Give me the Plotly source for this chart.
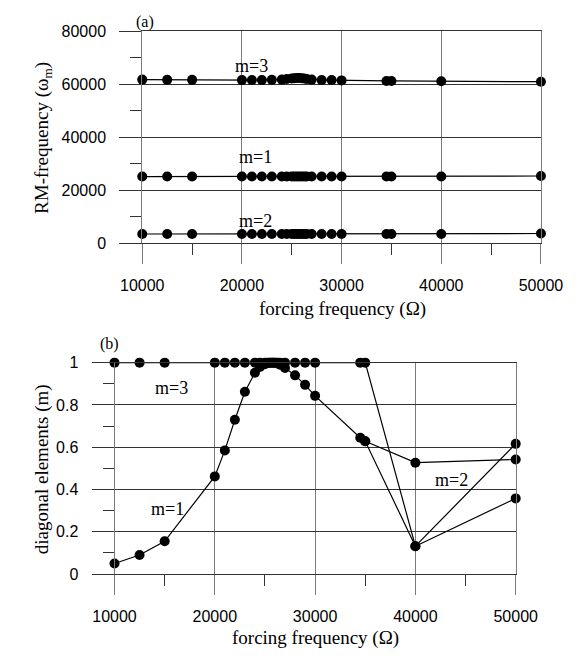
import plotly.graph_objects as go

# ---------------- data ----------------
forcing = [10000, 12500, 15000, 20000, 21000, 22000, 23000, 24000, 24500, 25000,
           25250, 25500, 25750, 26000, 26250, 26500, 27000, 28000, 29000, 30000,
           34500, 35000, 40000, 50000]

# (a) RM-frequency
rm_m3 = [61800, 61700, 61700, 61600, 61600, 61600, 61700, 61800, 62000, 62200,
         62300, 62400, 62400, 62300, 62200, 62000, 61800, 61600, 61600, 61500,
         61300, 61300, 61200, 61000]
rm_m1 = [25200] * 23 + [25400]
rm_m2 = [3500] * 22 + [3500, 3700]

# (b) diagonal elements
diag_m1 = [0.05, 0.09, 0.155, 0.462, 0.585, 0.73, 0.862, 0.952, 0.98, 0.993,
           0.998, 1.0, 1.0, 1.0, 0.998, 0.99, 0.975, 0.94, 0.895, 0.843,
           0.645, 0.628, 0.132, 0.358]
diag_m3 = [1.0] * 22 + [0.132, 0.616]
diag_m2_x = [35000, 40000, 50000]
diag_m2 = [0.628, 0.527, 0.542]

x_ticks = [10000, 20000, 30000, 40000, 50000]
x_labels = ["10000", "20000", "30000", "40000", "50000"]
ya_ticks = [0, 20000, 40000, 60000, 80000]
ya_labels = ["0", "20000", "40000", "60000", "80000"]
yb_ticks = [0, 0.2, 0.4, 0.6, 0.8, 1]
yb_labels = ["0", "0.2", "0.4", "0.6", "0.8", "1"]

# ---------------- figure ----------------
W, H = 587, 662
SANS = "Liberation Sans"
SERIF = "Liberation Serif"

def px(x):
    return x / W

def py(y):
    return 1 - y / H

line_style = dict(color="black", width=1.2)
marker_style = dict(color="black", size=10)

fig = go.Figure()
for ys in (rm_m3, rm_m1, rm_m2):
    fig.add_trace(go.Scatter(x=forcing, y=ys, mode="lines+markers", line=line_style,
                             marker=marker_style, xaxis="x", yaxis="y", cliponaxis=False))
for xs, ys in ((forcing, diag_m1), (forcing, diag_m3), (diag_m2_x, diag_m2)):
    fig.add_trace(go.Scatter(x=xs, y=ys, mode="lines+markers", line=line_style,
                             marker=marker_style, xaxis="x2", yaxis="y2", cliponaxis=False))

VGRID = "#7a7a7a"
HGRID = "#333333"

def xaxis(domain, anchor):
    return dict(domain=domain, anchor=anchor, range=[10000, 50000],
                tickvals=x_ticks, ticktext=x_labels,
                showgrid=True, gridcolor=VGRID, gridwidth=1, zeroline=False,
                showline=True, linecolor=HGRID, linewidth=1, mirror=True,
                ticks="outside", ticklen=20, tickcolor=VGRID, tickwidth=1,
                ticklabelstandoff=8,
                minor=dict(dtick=5000, tick0=10000, ticks="outside", ticklen=11,
                           tickcolor="#333333", showgrid=False),
                tickfont=dict(family=SANS, size=16, color="black"))

def yaxis(domain, anchor, rng, vals, texts, minor_dtick):
    return dict(domain=domain, anchor=anchor, range=rng, tickvals=vals, ticktext=texts,
                showgrid=True, gridcolor=HGRID, gridwidth=1, zeroline=False,
                showline=True, linecolor=VGRID, linewidth=1, mirror=True,
                ticks="outside", ticklen=22, tickcolor=HGRID, tickwidth=1,
                ticklabelstandoff=10,
                minor=dict(dtick=minor_dtick, tick0=0, ticks="outside", ticklen=11,
                           tickcolor="#333333", showgrid=False),
                tickfont=dict(family=SANS, size=16, color="black"))

fig.update_layout(
    width=W, height=H, autosize=False,
    margin=dict(l=0, r=0, t=0, b=0, pad=0),
    paper_bgcolor="white", plot_bgcolor="white",
    showlegend=False,
    xaxis=xaxis([px(130), px(561)], "y"),
    yaxis=yaxis([py(241.5), py(24)], "x", [0, 80000], ya_ticks, ya_labels, 10000),
    xaxis2=xaxis([px(100), px(533.7)], "y2"),
    yaxis2=yaxis([py(581), py(364)], "x2", [0, 1], yb_ticks, yb_labels, 0.1),
)

def ann(text, x, y, size=18, angle=0, xref="paper", yref="paper"):
    fig.add_annotation(text=text, x=x, y=y, xref=xref, yref=yref, showarrow=False,
                       textangle=angle, xanchor="center", yanchor="middle",
                       font=dict(family=SERIF, size=size, color="black"))

# axis titles
ann("forcing frequency (Ω)", px(346), py(309), size=19)
ann("forcing frequency (Ω)", px(317), py(647), size=19)
ann("RM-frequency (ω<sub>m</sub>)", px(22), py(133), size=19, angle=-90)
ann("diagonal elements (m)", px(22), py(473), size=19, angle=-90)

# panel labels
ann("(a)", px(133), py(14), size=16)
ann("(b)", px(95), py(345), size=16)

# mode labels
ann("m=3", 21000, 66800, xref="x", yref="y")
ann("m=1", 21350, 32400, xref="x", yref="y")
ann("m=2", 21350, 8500, xref="x", yref="y")
ann("m=3", 15700, 0.88, xref="x2", yref="y2")
ann("m=1", 15250, 0.31, xref="x2", yref="y2")
ann("m=2", 43560, 0.447, xref="x2", yref="y2")

fig.write_html("out.html")
